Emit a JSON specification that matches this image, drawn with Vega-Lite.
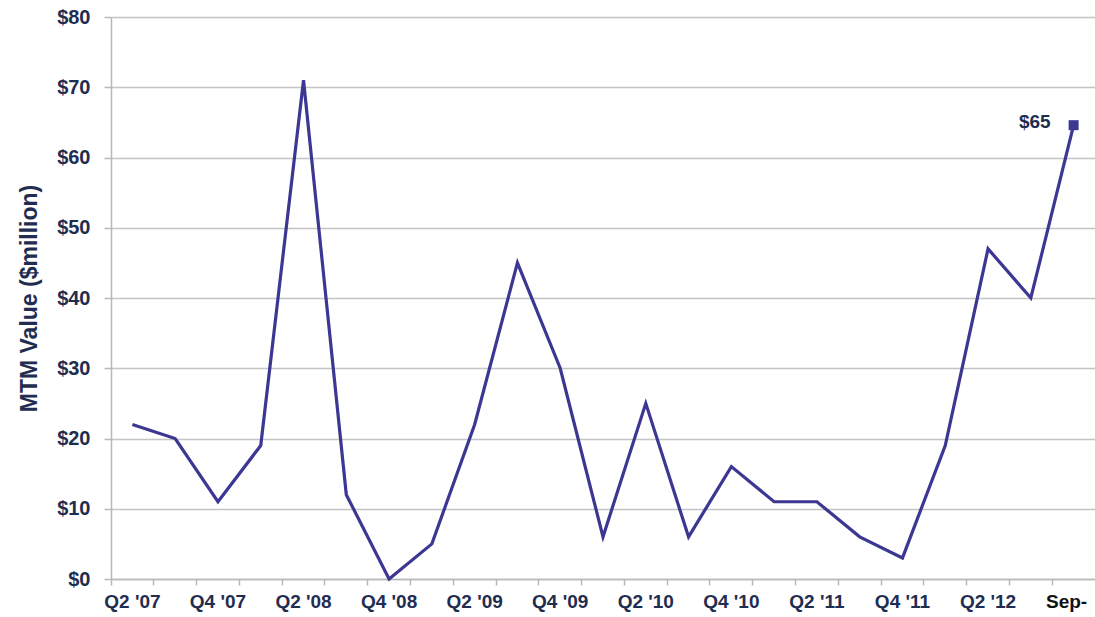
{
  "$schema": "https://vega.github.io/schema/vega-lite/v6.json",
  "width": 984,
  "height": 562,
  "autosize": {"type": "none"},
  "padding": {"left": 111, "top": 17, "right": 0, "bottom": 38},
  "background": "white",
  "config": {"view": {"stroke": null}, "font": "Liberation Sans"},
  "data": {"values": [
    {"q": "Q2 '07", "v": 22},
    {"q": "Q3 '07", "v": 20},
    {"q": "Q4 '07", "v": 11},
    {"q": "Q1 '08", "v": 19},
    {"q": "Q2 '08", "v": 71},
    {"q": "Q3 '08", "v": 12},
    {"q": "Q4 '08", "v": 0},
    {"q": "Q1 '09", "v": 5},
    {"q": "Q2 '09", "v": 22},
    {"q": "Q3 '09", "v": 45},
    {"q": "Q4 '09", "v": 30},
    {"q": "Q1 '10", "v": 6},
    {"q": "Q2 '10", "v": 25},
    {"q": "Q3 '10", "v": 6},
    {"q": "Q4 '10", "v": 16},
    {"q": "Q1 '11", "v": 11},
    {"q": "Q2 '11", "v": 11},
    {"q": "Q3 '11", "v": 6},
    {"q": "Q4 '11", "v": 3},
    {"q": "Q1 '12", "v": 19},
    {"q": "Q2 '12", "v": 47},
    {"q": "Q3 '12", "v": 40},
    {"q": "Sep-", "v": 64.6, "lbl": "$65"}
  ]},
  "encoding": {
    "x": {"field": "q", "type": "ordinal", "sort": null,
      "scale": {"type": "band", "paddingInner": 0, "paddingOuter": 0},
      "axis": {"title": null, "labelAngle": 0, "bandPosition": 0,
        "labelOffset": {"condition": {"test": "datum.value == 'Sep-'", "value": -7}, "value": 0},
        "labelExpr": "(slice(datum.value, 0, 2) == 'Q1' || slice(datum.value, 0, 2) == 'Q3') ? '' : datum.value",
        "labelFont": "Liberation Sans", "labelFontSize": 19, "labelFontWeight": "bold",
        "labelColor": {"condition": {"test": "datum.value == 'Sep-'", "value": "#111111"}, "value": "#1f2d50"},
        "labelPadding": 7,
        "domainColor": "#b8b8b8", "domainWidth": 1.5, "tickColor": "#b8b8b8", "tickSize": 6, "tickWidth": 1.5,
        "grid": false}},
    "y": {"field": "v", "type": "quantitative",
      "scale": {"domain": [0, 80], "nice": false},
      "axis": {"title": "MTM Value ($million)", "values": [0,10,20,30,40,50,60,70,80],
        "labelExpr": "'$' + datum.value",
        "labelFont": "Liberation Sans", "labelFontSize": 20, "labelFontWeight": "bold", "labelColor": "#1f2d50",
        "labelPadding": 14,
        "titleFont": "Liberation Sans", "titleFontSize": 23, "titleFontWeight": "bold", "titleColor": "#1f2d50",
        "titlePadding": 15,
        "domainColor": "#b8b8b8", "domainWidth": 1.5, "tickColor": "#b8b8b8", "tickSize": 7, "tickWidth": 1.5,
        "grid": true, "gridColor": "#c4c4c4", "gridWidth": 1.5}}
  },
  "layer": [
    {"mark": {"type": "line", "color": "#3b3792", "strokeWidth": 3.2}},
    {"transform": [{"filter": "datum.q == 'Sep-'"}],
     "mark": {"type": "square", "color": "#3b3792", "opacity": 1, "filled": true, "size": 100}},
    {"transform": [{"filter": "datum.q == 'Sep-'"}],
     "mark": {"type": "text", "align": "right", "baseline": "middle", "dx": -23, "dy": -3, "font": "Liberation Sans", "fontSize": 19, "fontWeight": "bold", "color": "#1f2d50"},
     "encoding": {"text": {"field": "lbl"}}}
  ]
}
